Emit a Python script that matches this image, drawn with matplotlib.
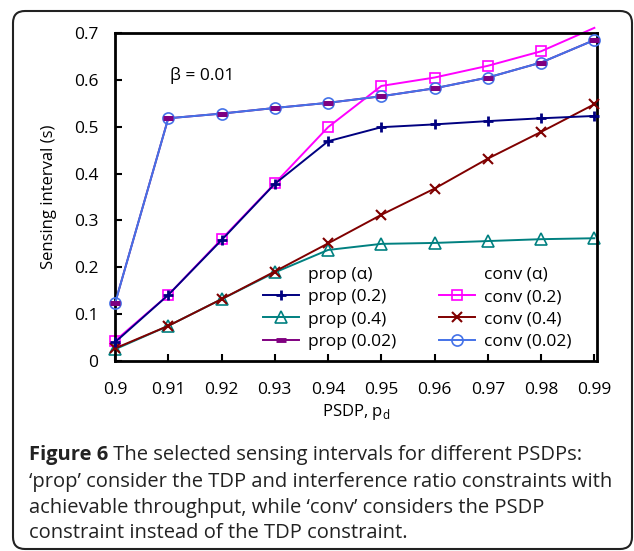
import matplotlib
matplotlib.use('Agg')
import matplotlib.pyplot as plt
from matplotlib.lines import Line2D
from matplotlib.patches import FancyBboxPatch
from matplotlib.text import Annotation
from matplotlib.transforms import IdentityTransform

plt.rcParams['font.family'] = ['Open Sans', 'DejaVu Sans']
plt.rcParams['mathtext.fontset'] = 'custom'
plt.rcParams['mathtext.rm'] = 'Open Sans'

pd_vals = [0.9, 0.91, 0.92, 0.93, 0.94, 0.95, 0.96, 0.97, 0.98, 0.99]
prop_02 = [0.040, 0.141, 0.258, 0.378, 0.469, 0.499, 0.505, 0.512, 0.518, 0.523]
prop_04 = [0.025, 0.075, 0.132, 0.189, 0.237, 0.250, 0.252, 0.256, 0.260, 0.262]
prop_002 = [0.123, 0.518, 0.528, 0.540, 0.551, 0.565, 0.582, 0.605, 0.637, 0.685]
conv_02 = [0.043, 0.141, 0.260, 0.379, 0.499, 0.587, 0.605, 0.630, 0.661, 0.711]
conv_04 = [0.027, 0.075, 0.132, 0.191, 0.251, 0.312, 0.368, 0.432, 0.489, 0.548]
conv_002 = [0.123, 0.518, 0.528, 0.540, 0.551, 0.565, 0.582, 0.605, 0.637, 0.685]

xticks = [0.9, 0.91, 0.92, 0.93, 0.94, 0.95, 0.96, 0.97, 0.98, 0.99]
xticklabels = ['0.9', '0.91', '0.92', '0.93', '0.94', '0.95', '0.96', '0.97', '0.98', '0.99']
yticks = [0, 0.1, 0.2, 0.3, 0.4, 0.5, 0.6, 0.7]
yticklabels = ['0', '0.1', '0.2', '0.3', '0.4', '0.5', '0.6', '0.7']

fig = plt.figure(figsize=(6.34, 5.51), dpi=100)
ax = fig.add_axes([0.1814, 0.3448, 0.7603, 0.5953])

lw = 1.4
l1, = ax.plot(pd_vals, prop_02, color='#000080', lw=lw, marker='+', ms=7.5, mew=2,
              clip_on=False, zorder=3)
l2, = ax.plot(pd_vals, prop_04, color='#008080', lw=lw, marker='^', ms=9, mew=1.2,
              mfc='none', clip_on=False, zorder=2)
l3, = ax.plot(pd_vals, prop_002, color='#800080', lw=lw, marker='_', ms=7.5, mew=3.5,
              clip_on=False, zorder=2)
l4, = ax.plot(pd_vals, conv_02, color='#FF00FF', lw=lw, marker='s', ms=7.7, mew=1.2,
              mfc='none', markevery=list(range(9)), clip_on=False, zorder=2.5)
l5, = ax.plot(pd_vals, conv_04, color='#800000', lw=lw, marker='x', ms=7, mew=1.5,
              clip_on=False, zorder=2.6)
l6, = ax.plot(pd_vals, conv_002, color='#4472E8', lw=lw, marker='o', ms=8, mew=1.2,
              mfc='none', clip_on=False, zorder=2.7)
# purple markers sit on top of the blue circles
ax.plot(pd_vals, prop_002, color='#800080', lw=0, marker='_', ms=7.5, mew=3.5,
        clip_on=False, zorder=2.8)

ax.set_xlim(0.9, 0.9905)
ax.set_ylim(0, 0.7)
ax.set_xticks(xticks)
ax.set_xticklabels(xticklabels)
ax.set_yticks(yticks)
ax.set_yticklabels(yticklabels)
ax.tick_params(axis='both', direction='in', length=5, width=1.5, labelsize=12.5)
ax.tick_params(axis='x', pad=15)
ax.tick_params(axis='y', pad=12)
for s in ax.spines.values():
    s.set_linewidth(2)

ax.set_xlabel('PSDP, p$_\\mathregular{d}$', fontsize=12, labelpad=3)
ax.set_ylabel('Sensing interval (s)', fontsize=12, labelpad=12)

ax.text(0.9103, 0.61, '\u03b2 = 0.01', fontsize=12.5, va='center', ha='left')

blank = Line2D([], [], linestyle='none')
handles = [blank, l1, l2, l3, blank, l4, l5, l6]
labels = ['prop (\u03b1)', 'prop (0.2)', 'prop (0.4)', 'prop (0.02)',
          'conv (\u03b1)', 'conv (0.2)', 'conv (0.4)', 'conv (0.02)']
ax.legend(handles, labels, ncol=2, loc='upper left', bbox_to_anchor=(0.307, 0.288),
          frameon=False, fontsize=12.5, borderpad=0, borderaxespad=0,
          handlelength=2.1, handletextpad=0.5, columnspacing=2.45,
          labelspacing=0.36)

# outer rounded frame
frame = FancyBboxPatch((13, 2), 619, 538, boxstyle='round,pad=0,rounding_size=12',
                       transform=IdentityTransform(), fill=False,
                       edgecolor='#222222', lw=1.5)
fig.patches.append(frame)

cap_size = 14.5
cap_col = '#222222'
t1 = fig.text(29 / 634, 1 - 460 / 551, 'Figure 6', fontsize=cap_size,
              fontweight='bold', va='baseline', ha='left', color=cap_col)
ann = Annotation(' The selected sensing intervals for different PSDPs:', xy=(1, 0),
                 xycoords=t1, fontsize=cap_size, va='bottom', ha='left', color=cap_col)
fig.add_artist(ann)
cap_lines = ["\u2018prop\u2019 consider the TDP and interference ratio constraints with",
             "achievable throughput, while \u2018conv\u2019 considers the PSDP",
             "constraint instead of the TDP constraint."]
for i, line in enumerate(cap_lines):
    fig.text(29 / 634, 1 - (487 + 25.5 * i) / 551, line, fontsize=cap_size,
             va='baseline', ha='left', color=cap_col)

fig.savefig('out.png', dpi=100)
